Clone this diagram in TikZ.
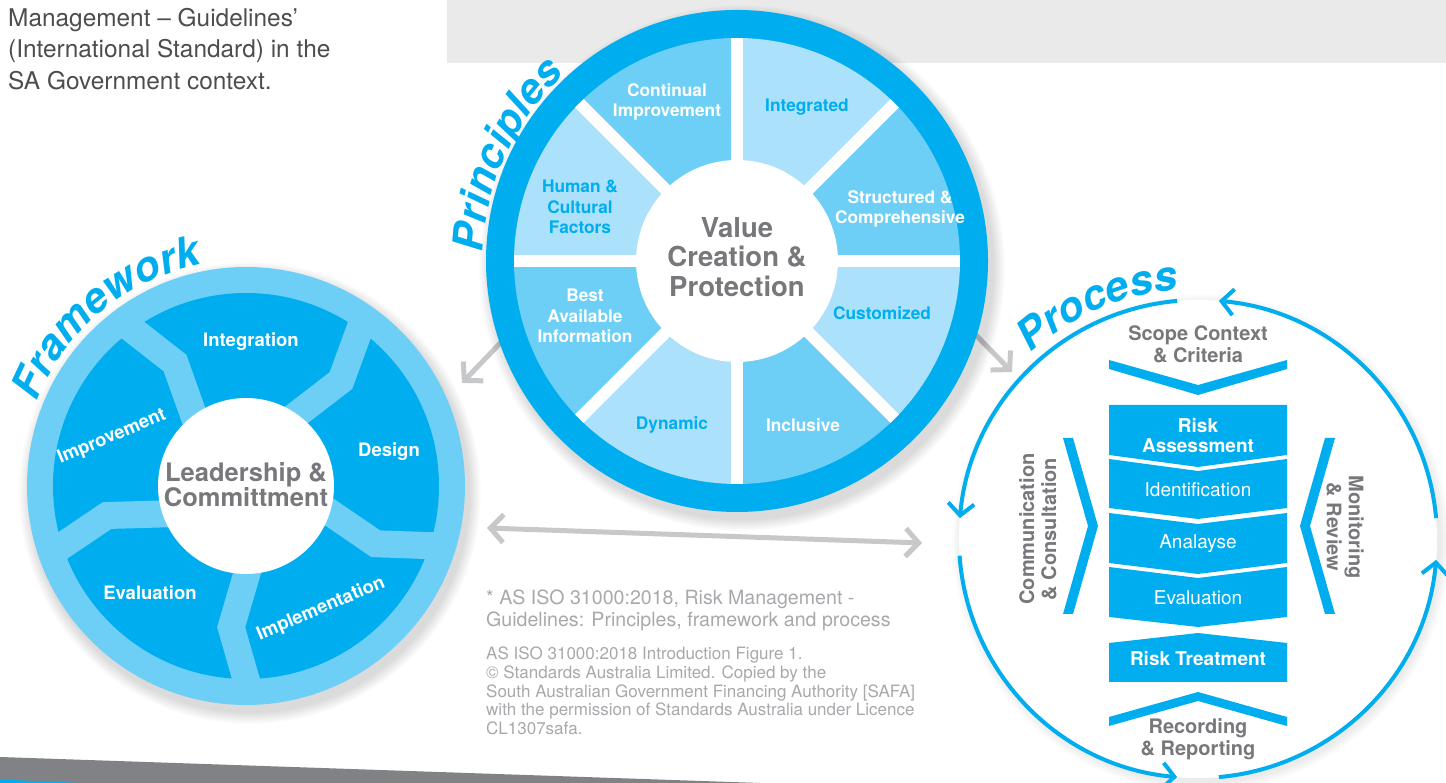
\documentclass[tikz,border=0pt]{standalone}
\usepackage{fontspec}
\setmainfont{TeX Gyre Heros}
\usetikzlibrary{calc,arrows.meta,decorations.text}

\definecolor{cyanD}{HTML}{00AEEF}
\definecolor{cyanM}{HTML}{6DCFF6}
\definecolor{cyanL}{HTML}{ABE1FA}
\definecolor{grayTxt}{HTML}{77787B}
\definecolor{grayBand}{HTML}{808285}
\definecolor{grayTop}{HTML}{EAEAEA}
\definecolor{grayArr}{HTML}{C7C8CA}
\definecolor{grayNote}{HTML}{A7A9AC}
\definecolor{darkTxt}{HTML}{4D4D4F}

\newcommand{\fsz}[2]{\fontsize{#1}{#2}\selectfont}
\newcommand{\titlefont}{\fontsize{42}{42}\selectfont\bfseries\itshape}

\begin{document}
\begin{tikzpicture}[x=1pt,y=1pt,
  fwlbl/.style={font={\bfseries\fsz{18.5}{20}}, text=white, inner sep=0, align=center},
  prlbl/.style={font={\bfseries\fsz{17.3}{20.5}}, inner sep=0, align=center},
  pgray/.style={font={\bfseries\fsz{20}{22}}, text=grayTxt, inner sep=0, align=center},
  pbold/.style={font={\bfseries\fsz{19}{19.5}}, text=white, inner sep=0, align=center},
  preg/.style={font={\fsz{19}{20}}, text=white, inner sep=0, align=center},
  parc/.style={cyanD, line width=4, -{Straight Barb[length=12pt, width=26pt]}},
  garr/.style={grayArr, line width=5, -{Straight Barb[length=13pt, width=28pt]}},
  curved/.style={decorate, decoration={text along path, text color=cyanD, text={|\titlefont|#1}}}
]
\useasboundingbox (0,0) rectangle (1446,783);
\fill[white] (0,0) rectangle (1446,783);

% page furniture
\fill[grayTop] (447,720) rectangle (1446,783);
\fill[grayBand] (0,26) -- (760,0) -- (0,0) -- cycle;
\fill[cyanD] (0,3.5) -- (80,0) -- (0,0) -- cycle;

\node[anchor=north west, inner sep=0, align=left, text=darkTxt, font={\fsz{24.4}{31.5}}] (intro) at (8,775)
  {Management – Guidelines’\\(International Standard) in the\\SA Government context.};

% grey connecting arrows
\coordinate (gL1) at (507,447);
\coordinate (gL2) at (462,400);
\coordinate (gR1) at (968,456);
\coordinate (gR2) at (1012,411);
\coordinate (gD1) at (487,255);
\coordinate (gD2) at (922,240);
\draw[garr] (gL1) -- (gL2);
\draw[garr] (gR1) -- (gR2);
\draw[garr, {Straight Barb[length=13pt, width=28pt]}-{Straight Barb[length=13pt, width=28pt]}] (gD1) -- (gD2);

% ---------------- Framework wheel ----------------
\coordinate (FW) at (246,297);
\foreach \k in {0,...,11} \fill[black, opacity=0.012] ($(FW)+(4,-7)$) circle[radius=231-\k];
\fill[cyanM] (FW) circle[radius=219];
\fill[cyanD] (FW) circle[radius=193];
\foreach \p in {270,198,126,54,-18}{
  \coordinate (sI) at ($(FW)+({\p+0.5}:88)$);
  \coordinate (sB) at ($(FW)+({\p-6}:142)$);
  \coordinate (sO) at ($(FW)+(\p:193)$);
  \draw[cyanM, line width=27, line join=miter] ($(sB)!1.6!(sI)$) -- (sB) -- ($(sB)!1.25!(sO)$);
}
\fill[white] (FW) circle[radius=88];
\node[fwlbl] (fInt) at (251,441) {Integration};
\node[fwlbl] (fDes) at (389,331) {Design};
\node[fwlbl, rotate=23] (fImp) at (321,174) {Implementation};
\node[fwlbl] (fEva) at (150,190) {Evaluation};
\node[fwlbl, rotate=23] (fImpr) at (112,346) {Improvement};
\node[font={\bfseries\fsz{25.5}{25}}, text=grayTxt, align=center, inner sep=0] (fLead) at (246,298) {Leadership \&\\Committment};
\path[curved=Framework] ($(FW)+(158:226)$) arc[start angle=158, end angle=80, radius=226];

% ---------------- Principles wheel ----------------
\coordinate (PR) at (737,522);
\foreach \k in {0,...,11} \fill[black, opacity=0.012] ($(PR)+(5,-7)$) circle[radius=263-\k];
\fill[cyanD] (PR) circle[radius=251];
\foreach \a/\col in {0/cyanM,45/cyanL,90/cyanM,135/cyanL,180/cyanM,225/cyanL,270/cyanM,315/cyanL}
  \fill[\col] (PR) -- ++(\a:223) arc[start angle=\a, end angle=\a+45, radius=223] -- cycle;
\foreach \a in {0,45,...,315} \draw[white, line width=12] (PR) -- ++(\a:223);
\fill[white] (PR) circle[radius=101];
\node[prlbl, text=white] (pCI) at (667,681) {Continual\\Improvement};
\node[prlbl, text=cyanD] (pIn) at (807,676) {Integrated};
\node[prlbl, text=white] (pSC) at (900,574) {Structured \&\\Comprehensive};
\node[prlbl, text=cyanD] (pCu) at (882,470) {Customized};
\node[prlbl, text=white] (pIc) at (803,358) {Inclusive};
\node[prlbl, text=cyanD] (pDy) at (672,358) {Dynamic};
\node[prlbl, text=white] (pBA) at (585,467) {Best\\Available\\Information};
\node[prlbl, text=cyanD] (pHC) at (580,576) {Human \&\\Cultural\\Factors};
\node[font={\bfseries\fsz{27.5}{29.5}}, text=grayTxt, align=center, inner sep=0] (pVal) at (737,526) {Value\\Creation \&\\Protection};
\path[curved=Principles] ($(PR)+(178:254)$) arc[start angle=178, end angle=100, radius=254];

% ---------------- Process cycle ----------------
\coordinate (PS) at (1198,244);
\foreach \k in {0,...,9} \fill[black, opacity=0.008] ($(PS)+(3,-4)$) circle[radius=249-\k];
\fill[white] (PS) circle[radius=239];
\draw[parc] ($(PS)+(95:239)$) arc[start angle=95, end angle=175, radius=239];
\draw[parc] ($(PS)+(184:239)$) arc[start angle=184, end angle=265, radius=239];
\draw[parc] ($(PS)+(275:239)$) arc[start angle=275, end angle=355, radius=239];
\draw[parc] ($(PS)+(5:239)$) arc[start angle=5, end angle=85, radius=239];
\path[curved=Process] ($(PS)+(132:250)$) arc[start angle=132, end angle=80, radius=250];

\fill[cyanD] (1109,423) -- (1198,398) -- (1287,423) -- (1287,414) -- (1198,388) -- (1109,414) -- cycle;
\fill[cyanD] (1109,378) -- (1287,378) -- (1287,328) -- (1198,316) -- (1109,328) -- cycle;
\fill[cyanD] (1109,324) -- (1198,312) -- (1287,324) -- (1287,275) -- (1198,264) -- (1109,275) -- cycle;
\fill[cyanD] (1109,270) -- (1198,259) -- (1287,270) -- (1287,220) -- (1198,209) -- (1109,220) -- cycle;
\fill[cyanD] (1109,216) -- (1198,205) -- (1287,216) -- (1287,166) -- (1198,156) -- (1109,166) -- cycle;
\fill[cyanD] (1109,140) -- (1198,150) -- (1287,140) -- (1287,101) -- (1109,101) -- cycle;
\fill[cyanD] (1109,66) -- (1198,91) -- (1287,66) -- (1287,57) -- (1198,82) -- (1109,57) -- cycle;
\fill[cyanD] (1063,345) -- (1073,345) -- (1098,257) -- (1073,169) -- (1063,169) -- (1088,257) -- cycle;
\fill[cyanD] (1335,345) -- (1325,345) -- (1300,257) -- (1325,169) -- (1335,169) -- (1310,257) -- cycle;

\node[pgray] (scope) at (1198,439) {Scope Context\\\& Criteria};
\node[pgray] (rec) at (1198,43.5) {Recording\\\& Reporting};
\node[pgray, rotate=90] (comm) at (1038,254) {Communication\\\& Consultation};
\node[pgray, rotate=-90] (mon) at (1345,256) {Monitoring\\\& Review};
\node[pbold] (ra) at (1198,347.5) {Risk\\Assessment};
\node[preg] (ident) at (1198,293) {Identification};
\node[preg] (anal) at (1198,239) {Analayse};
\node[preg] (evalu) at (1198,185) {Evaluation};
\node[pbold] (rt) at (1198,124) {Risk Treatment};

% ---------------- notes ----------------
\node[anchor=north west, inner sep=0, align=left, text=grayNote, font={\fsz{19.6}{22}}] (note) at (486,193)
  {* AS ISO 31000:2018, Risk Management -\\Guidelines: Principles, framework and process};
\node[anchor=north west, inner sep=0, align=left, text=grayNote, font={\fsz{17}{18.6}}] (credit) at (486,136)
  {AS ISO 31000:2018 Introduction Figure 1.\\© Standards Australia Limited. Copied by the\\South Australian Government Financing Authority [SAFA]\\with the permission of Standards Australia under Licence\\CL1307safa.};
\end{tikzpicture}
\end{document}
